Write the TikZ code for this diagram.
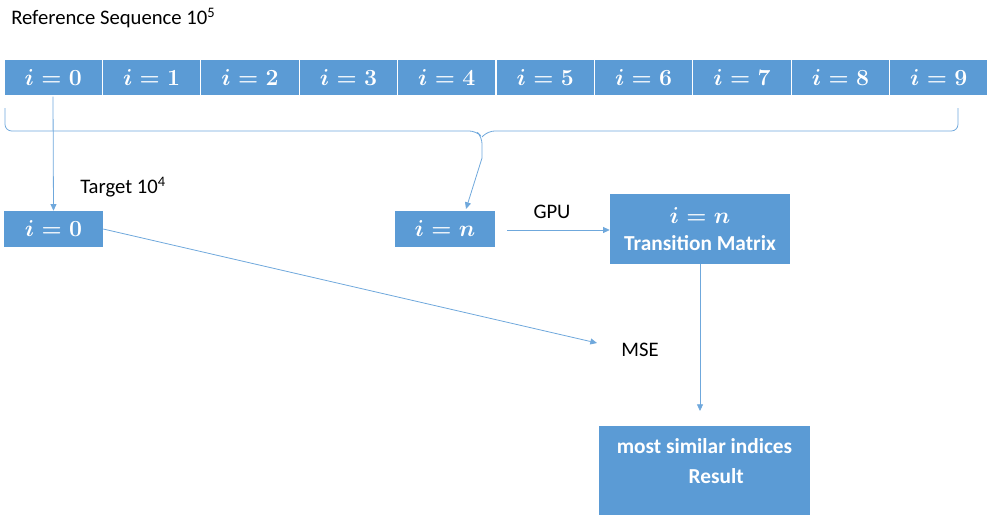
\documentclass[tikz,border=0pt]{standalone}
\usepackage{fontspec}
\setmainfont{Carlito}
\usetikzlibrary{arrows.meta,positioning}
\definecolor{boxblue}{HTML}{5B9BD5}
\definecolor{lineblue}{HTML}{6FA8DC}
\tikzset{
  cell/.style={draw=white, line width=0.8pt, fill=boxblue, text=white, minimum height=37*0.75pt, minimum width=98.4*0.75pt, inner sep=0pt, font=\fontsize{16.5}{18}\selectfont\boldmath},
  bluebox/.style={fill=boxblue, text=white, inner sep=0pt, font=\fontsize{16.5}{18}\selectfont\boldmath},
  conn/.style={draw=lineblue, line width=0.6pt},
  arr/.style={conn, -{Triangle[length=5pt,width=4.5pt]}},
  lbl/.style={font=\fontsize{15.5}{18}\selectfont, text=black, inner sep=0pt}
}
\begin{document}
\begin{tikzpicture}[x=0.75pt, y=-0.75pt]
\useasboundingbox (0,0) rectangle (988,514);
\node[lbl, anchor=west] (title) at (11,18) {Reference Sequence 10\textsuperscript{5}};
\foreach \k in {0,...,9} {
  \node[cell] (c\k) at ({4+98.4*\k+49.2},77.5) {$i=\k$};
}
% brace
\coordinate (bl) at (5,108);
\coordinate (br) at (958,108);
\coordinate (btip) at (482,158);
\draw[conn, rounded corners=5pt] (bl) -- (5,131) -- (476,131) -- (482,137) -- (btip);
\draw[conn, rounded corners=5pt] (br) -- (958,131) -- (488,131) -- (482,137);
% lower nodes
\node[bluebox, minimum width=99*0.75pt, minimum height=36*0.75pt] (t0) at (53.5,229) {$i=0$};
\node[lbl, anchor=west] (tlabel) at (80,187) {Target 10\textsuperscript{4}};
\node[bluebox, minimum width=100*0.75pt, minimum height=36*0.75pt] (tn) at (445,229) {$i=n$};
\node[bluebox, minimum width=180*0.75pt, minimum height=70*0.75pt, align=center] (tm) at (700,229) {$i=n$\\[2pt]{\fontsize{16}{18}\selectfont\bfseries Transition Matrix}};
\node[lbl] (gpu) at (552,212) {GPU};
\node[lbl] (mse) at (640,350) {MSE};
\node[bluebox, minimum width=211*0.75pt, minimum height=100*0.75pt] (res) at (704.5,476) {};
\node[bluebox, fill=none, align=center, font=\fontsize{16}{22.5}\selectfont\bfseries] (restext) at (704.5,461) {most similar indices\\\hspace*{1.1em}Result};
% connectors
\draw[arr] (c0.south -| 53,0) -- (t0.north);
\draw[arr] (btip) -- (466,209);
\draw[arr] (507,230) -- (tm.west |- 0,230);
\draw[arr] (t0.east) -- (597,343);
\draw[arr] (tm.south) -- (700,411);
\end{tikzpicture}
\end{document}
